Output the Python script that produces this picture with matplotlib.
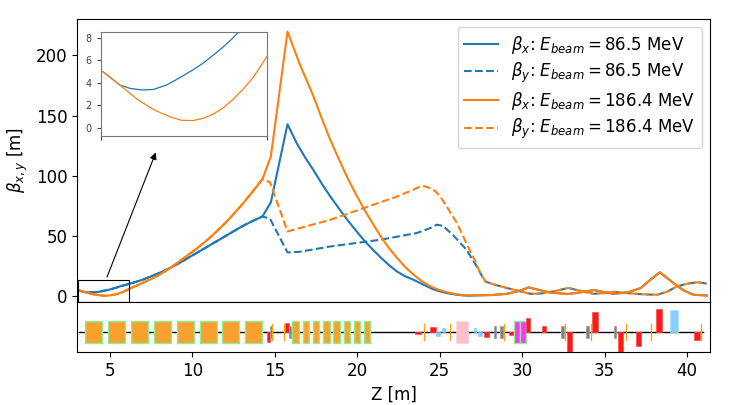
import numpy as np
import matplotlib
matplotlib.use("Agg")
import matplotlib.pyplot as plt
from matplotlib.patches import Rectangle

# beta functions (Z in m, beta in m)
z_bx86 = [3.1, 3.30, 3.42, 3.61, 3.83, 4.05, 4.29, 4.54, 4.79, 4.98, 5.17, 5.36, 5.51, 5.64, 6.17,
          6.6, 7.0, 7.5, 8.0, 8.64, 9.3, 10.0, 10.5, 11.0, 11.5, 12.0, 12.5, 13.0, 13.6,
          14.25, 14.76, 15.77, 16.33, 16.85, 17.35, 17.85, 18.36, 18.87, 19.37, 19.88, 20.38,
          20.9, 21.4, 21.9, 22.41, 22.9, 23.42, 24.02, 24.6, 25.0, 25.44, 26.0, 26.4, 26.86]
bx86 = [4.99, 4.25, 3.81, 3.51, 3.37, 3.42, 3.80, 4.45, 5.15, 5.75, 6.45, 7.2, 7.85, 8.5, 10.4,
        12.2, 14.0, 16.7, 19.5, 23.5, 28.5, 34.0, 38.0, 42.0, 46.0, 50.0, 54.0, 58.0, 62.2,
        66.3, 78.0, 142.8, 127.0, 115.0, 104.6, 93.5, 83.0, 73.3, 64.0, 55.3, 47.0,
        39.5, 32.6, 26.3, 20.7, 16.8, 13.8, 9.7, 6.0, 4.2, 2.8, 1.5, 0.9, 0.6]

z_bx186 = [3.1, 3.33, 3.42, 3.64, 3.73, 3.98, 4.11, 4.38, 4.58, 4.79, 4.98, 5.17, 5.36, 5.54, 5.73,
           5.92, 6.17, 6.6, 7.0, 7.5, 8.0, 8.64, 9.3, 10.0, 10.5, 11.0, 11.5, 12.0, 12.5, 13.0, 13.6,
           14.25, 14.76, 15.77, 16.5, 17.35, 17.85, 18.36, 18.87, 19.37, 19.88, 20.38, 20.9, 21.4,
           21.9, 22.41, 22.9, 23.42, 23.9, 24.43, 24.9, 25.44, 25.95, 26.45]
bx186 = [4.99, 4.15, 3.80, 2.95, 2.60, 1.83, 1.50, 0.95, 0.68, 0.66, 0.86, 1.24, 1.80, 2.55, 3.45,
         4.50, 6.30, 8.9, 11.4, 14.5, 18.0, 23.5, 30.0, 37.0, 42.3, 48.0, 54.3, 61.0, 68.3, 76.0, 86.0,
         97.3, 116.0, 219.6, 193.0, 165.7, 147.5, 130.0, 114.3, 99.4, 85.8, 73.2, 61.3, 50.3,
         40.5, 32.0, 24.5, 18.0, 12.8, 8.5, 5.6, 3.5, 2.0, 1.0]

# after the kink the vertical beta splits off
z_by86_split = [14.71, 15.77, 16.5, 18.36, 21.4, 23.6, 24.4, 24.83, 25.2, 25.8, 26.45, 26.66, 27.2, 27.47]
by86_split = [64.4, 36.5, 37.0, 41.4, 47.0, 52.5, 56.5, 59.5, 58.5, 51.0, 41.4, 38.0, 26.0, 19.3]

z_by186_split = [14.71, 15.77, 18.36, 20.38, 22.41, 23.4, 23.82, 24.1, 24.43, 24.75, 25.04, 25.5,
                 26.05, 26.66, 27.2, 27.47]
by186_split = [94.6, 53.9, 63.5, 73.2, 82.8, 88.5, 91.1, 91.3, 89.8, 87.0, 82.8, 73.0,
               60.8, 43.0, 28.0, 19.3]

# downstream both energies sit on the same optics
z_tail_x = [27.06, 28.2, 29.09, 29.8, 30.4, 31.0, 31.7, 32.8, 33.6, 34.35, 35.0, 35.56, 36.4, 37.2,
            37.8, 38.35, 39.2, 39.8, 40.4, 41.2]
bx_tail = [0.8, 1.2, 2.2, 4.5, 7.5, 5.5, 3.3, 2.0, 3.5, 5.3, 3.5, 2.2, 3.3, 7.0,
           14.0, 20.0, 11.0, 5.0, 1.4, 0.8]
z_tail_y = [27.77, 28.4, 29.09, 29.8, 30.5, 31.2, 32.0, 32.8, 33.6, 34.35, 35.0, 35.56, 36.4, 37.3,
            38.2, 38.8, 39.4, 40.0, 40.6, 41.2]
by_tail = [12.4, 9.5, 7.0, 4.5, 2.2, 2.5, 4.5, 7.0, 4.5, 2.2, 2.8, 3.8, 2.8, 1.8,
           1.4, 4.0, 8.3, 10.5, 11.8, 10.7]

energies = [86.5, 186.4]

# lattice elements (start, length [, strength])
und_long_start = [3.50, 4.90, 6.27, 7.65, 9.05, 10.44, 11.82, 13.20]
und_long_len = 1.03
und_short_start = [16.07, 16.70, 17.33, 17.95, 18.56, 19.18, 19.79, 20.40]
und_short_len = 0.38
quads = [(14.51, 0.20, -10), (15.63, 0.26, 9), (23.52, 0.34, -2), (24.43, 0.32, 5),
         (27.66, 0.33, -5.5), (29.18, 0.26, -3), (30.26, 0.24, 13.7), (31.21, 0.26, 5.7),
         (32.73, 0.32, -25), (34.26, 0.32, 19.7), (35.84, 0.28, -25), (36.94, 0.28, -14.3),
         (38.15, 0.32, 22.3), (40.41, 0.37, -7.7)]
sext = [(24.80, 0.20, -4), (25.12, 0.20, 4), (27.06, 0.16, 4), (27.34, 0.20, -4)]
dipole = [(38.96, 0.52, 21.7)]
cavity = [(25.97, 0.74)]
magnets = [(29.49, 0.36), (29.85, 0.36)]
bpms = [14.75, 15.91, 28.37, 28.76, 32.45, 33.97, 35.65]
screens = [14.84, 15.55, 24.02, 25.6, 28.9, 32.63, 34.18, 36.31, 37.82, 40.86]

c_blue = '#1f77b4'
c_orange = '#ff7f0e'

z_bx86_full = z_bx86 + z_tail_x
bx86_full = bx86 + bx_tail
z_bx186_full = z_bx186 + z_tail_x
bx186_full = bx186 + bx_tail
k86 = z_bx86.index(14.25)
k186 = z_bx186.index(14.25)
z_by86_full = z_bx86[:k86 + 1] + z_by86_split + z_tail_y
by86_full = bx86[:k86 + 1] + by86_split + by_tail
z_by186_full = z_bx186[:k186 + 1] + z_by186_split + z_tail_y
by186_full = bx186[:k186 + 1] + by186_split + by_tail

fig = plt.figure(figsize=(7.36, 4.05), dpi=100)
ax = fig.add_axes([77 / 736, 1 - 302 / 405, 633 / 736, 283 / 405])
axl = fig.add_axes([77 / 736, 1 - 352 / 405, 633 / 736, 50 / 405], sharex=ax)

ax.plot(z_bx86_full, bx86_full, color=c_blue, lw=1.5,
        label=r'$\beta_x$: $E_{beam} = %.1f$ MeV' % energies[0])
ax.plot(z_by86_full, by86_full, color=c_blue, lw=1.5, ls='--',
        label=r'$\beta_y$: $E_{beam} = %.1f$ MeV' % energies[0])
ax.plot(z_bx186_full, bx186_full, color=c_orange, lw=1.5,
        label=r'$\beta_x$: $E_{beam} = %.1f$ MeV' % energies[1])
ax.plot(z_by186_full, by186_full, color=c_orange, lw=1.5, ls='--',
        label=r'$\beta_y$: $E_{beam} = %.1f$ MeV' % energies[1])

ax.set_xlim(3.0, 41.4)
ax.set_ylim(-4.6, 230)
ax.set_yticks([0, 50, 100, 150, 200])
ax.tick_params(axis='y', labelsize=12)
ax.tick_params(axis='x', bottom=False, labelbottom=False)
ax.set_ylabel(r'$\beta_{x,y}$ [m]', fontsize=12)
ax.legend(loc='upper right', fontsize=12, labelspacing=0.3)

# zoom box and arrow to the inset
ax.add_patch(Rectangle((3.06, -4.3), 3.11, 17.6, fill=False, ec='black', lw=0.8, zorder=5))
ax.annotate('', xy=(7.84, 121.5), xytext=(4.76, 14.0),
            arrowprops=dict(arrowstyle='-|>', color='black', lw=0.8, mutation_scale=10))

axin = fig.add_axes([100.7 / 736, 1 - 135.7 / 405, 166 / 736, 104 / 405])
axin.plot(z_bx86_full, bx86_full, color=c_blue, lw=0.9)
axin.plot(z_bx186_full, bx186_full, color=c_orange, lw=0.9)
axin.set_xlim(3.06, 6.17)
axin.set_ylim(-0.68, 8.53)
axin.set_yticks([0, 2, 4, 6, 8])
axin.set_xticks([3.06, 6.17])
axin.set_xticklabels([])
axin.tick_params(labelsize=7, colors='#444444', length=3)
for sp in axin.spines.values():
    sp.set_color('#777777')

# lattice
axl.plot([3.15, 40.95], [0, 0], color='black', lw=1, zorder=1)
for s in und_long_start:
    axl.add_patch(Rectangle((s, -11), und_long_len, 22, fc='#f9a12e', ec='#90ee90', lw=1, zorder=2))
for s in und_short_start:
    axl.add_patch(Rectangle((s, -11), und_short_len, 22, fc='#f9a12e', ec='#90ee90', lw=1, zorder=2))
for s, l, k in quads:
    axl.add_patch(Rectangle((s, 0), l, k, fc='#ff1a1a', ec='#ff4d4d', lw=0.5, zorder=3))
for s, l, k in sext:
    axl.add_patch(Rectangle((s, 0), l, k, fc='#87cefa', ec='#87cefa', lw=0.5, zorder=3))
for s, l, k in dipole:
    axl.add_patch(Rectangle((s, 0), l, k, fc='#87cefa', ec='#a8dcfb', lw=0.5, zorder=3))
for s, l in cavity:
    axl.add_patch(Rectangle((s, -11), l, 22, fc='pink', ec='#ffd0d8', lw=0.5, zorder=2))
for s, l in magnets:
    axl.add_patch(Rectangle((s, -11), l, 22, fc='#ff33ff', ec='#90ee90', lw=1, zorder=2))
for zb in bpms:
    axl.add_patch(Rectangle((zb - 0.07, -6), 0.14, 12, fc='#808080', ec='#a0a0a0', lw=0.5, zorder=3))
for zs in screens:
    axl.plot([zs, zs], [-8, 8], color='orange', lw=1, zorder=3)

axl.set_ylim(-20, 29.4)
axl.set_yticks([])
axl.set_xticks([5, 10, 15, 20, 25, 30, 35, 40])
axl.tick_params(axis='x', labelsize=12)
axl.set_xlabel('Z [m]', fontsize=12)

fig.savefig('out.png', dpi=100)
